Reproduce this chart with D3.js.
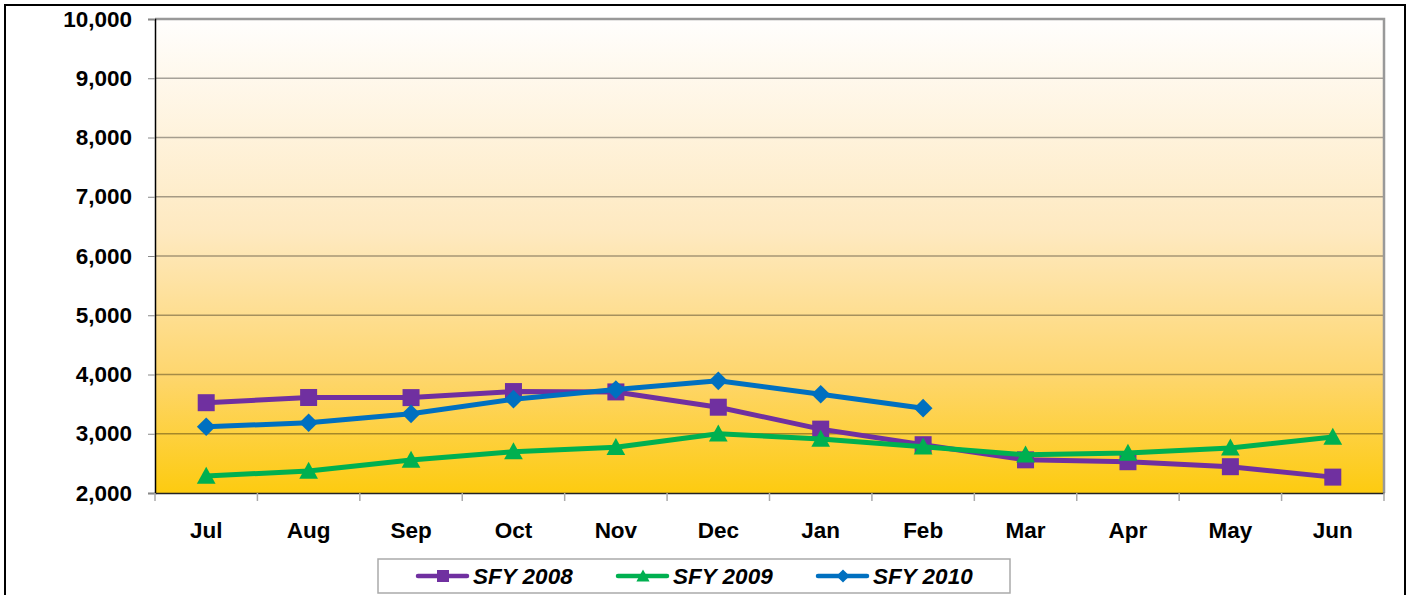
<!DOCTYPE html>
<html>
<head>
<meta charset="utf-8">
<script src="https://cdn.jsdelivr.net/npm/d3@7"></script>
<style>
  body { margin: 0; background: #fff; }
  svg { font-family: Arial, "Liberation Sans", sans-serif; }
</style>
</head>
<body>
<svg width="1414" height="595"></svg>
<script>
const months = ["Jul", "Aug", "Sep", "Oct", "Nov", "Dec", "Jan", "Feb", "Mar", "Apr", "May", "Jun"];
const sfy2008 = [3524, 3612, 3610, 3712, 3706, 3448, 3078, 2815, 2560, 2528, 2444, 2268];
const sfy2009 = [2287, 2371, 2557, 2697, 2772, 3000, 2911, 2781, 2645, 2675, 2760, 2945];
const sfy2010 = [3118, 3186, 3336, 3583, 3745, 3893, 3667, 3431, null, null, null, null];
const yTicks = [2000, 3000, 4000, 5000, 6000, 7000, 8000, 9000, 10000];

const series = [
  { name: "SFY 2008", values: sfy2008, color: "#7030a0", shape: "square" },
  { name: "SFY 2009", values: sfy2009, color: "#00b050", shape: "triangle" },
  { name: "SFY 2010", values: sfy2010, color: "#0070c0", shape: "diamond" }
];

const svg = d3.select("svg");
const width = +svg.attr("width");
const height = +svg.attr("height");

// outer frame
svg.append("rect")
  .attr("x", 5).attr("y", 5)
  .attr("width", 1400).attr("height", 600)
  .attr("fill", "none")
  .attr("stroke", "#000")
  .attr("stroke-width", 2);

const plot = { left: 155, right: 1384, top: 19, bottom: 493 };

const x = d3.scaleBand().domain(months).range([plot.left, plot.right]);
const y = d3.scaleLinear().domain([2000, 10000]).range([plot.bottom, plot.top]);

// background gradient
const defs = svg.append("defs");
const grad = defs.append("linearGradient")
  .attr("id", "bg").attr("x1", 0).attr("y1", 0).attr("x2", 0).attr("y2", 1);
grad.append("stop").attr("offset", "0%").attr("stop-color", "#fffefd");
grad.append("stop").attr("offset", "45%").attr("stop-color", "#fee9c0");
grad.append("stop").attr("offset", "75%").attr("stop-color", "#fed66e");
grad.append("stop").attr("offset", "100%").attr("stop-color", "#fdcb10");

svg.append("rect")
  .attr("x", plot.left).attr("y", plot.top)
  .attr("width", plot.right - plot.left)
  .attr("height", plot.bottom - plot.top)
  .attr("fill", "url(#bg)");

// gridlines
svg.append("g")
  .selectAll("line")
  .data(yTicks.slice(1, -1))
  .enter()
  .append("line")
  .attr("x1", plot.left).attr("x2", plot.right)
  .attr("y1", d => y(d)).attr("y2", d => y(d))
  .attr("stroke", "#000")
  .attr("stroke-opacity", 0.35)
  .attr("stroke-width", 1.3);

// plot border (top / right)
svg.append("path")
  .attr("d", `M${plot.left},${plot.top}H${plot.right}V${plot.bottom}`)
  .attr("fill", "none")
  .attr("stroke", "#999")
  .attr("stroke-width", 2.5);

// y axis
const yAxis = svg.append("g")
  .attr("transform", `translate(${plot.left},0)`)
  .call(d3.axisLeft(y).tickValues(yTicks).tickFormat(d3.format(",")).tickSize(7).tickPadding(16));
yAxis.select(".domain").attr("stroke", "#000").attr("stroke-width", 1.5);
yAxis.selectAll(".tick line").attr("stroke", "#888");
yAxis.selectAll("text")
  .attr("font-size", 22.5).attr("font-weight", "bold").attr("fill", "#000");

// x axis
const xAxis = svg.append("g")
  .attr("transform", `translate(0,${plot.bottom})`)
  .call(d3.axisBottom(x).tickSize(0).tickPadding(29));
xAxis.select(".domain").attr("stroke", "#222").attr("stroke-width", 1.5);
xAxis.selectAll("text")
  .attr("font-size", 22.5).attr("font-weight", "bold").attr("fill", "#000");

// x tick marks at band edges
svg.append("g")
  .selectAll("line")
  .data(d3.range(months.length + 1))
  .enter()
  .append("line")
  .attr("x1", i => plot.left + i * x.step())
  .attr("x2", i => plot.left + i * x.step())
  .attr("y1", plot.bottom).attr("y2", plot.bottom + 8)
  .attr("stroke", "#aaa")
  .attr("stroke-width", 1.5);

function marker(g, shape, color, size) {
  if (shape === "square") {
    g.append("rect")
      .attr("x", -size / 2).attr("y", -size / 2)
      .attr("width", size).attr("height", size)
      .attr("fill", color);
  } else if (shape === "triangle") {
    const w = size * 1.1, h = size;
    g.append("path")
      .attr("d", `M0,${-h * 0.55}L${w / 2},${h * 0.45}L${-w / 2},${h * 0.45}Z`)
      .attr("fill", color);
  } else {
    const s = size * 0.55;
    g.append("path")
      .attr("d", `M0,${-s}L${s},0L0,${s}L${-s},0Z`)
      .attr("fill", color);
  }
}

const line = d3.line()
  .defined(d => d.v != null)
  .x(d => x(d.m) + x.bandwidth() / 2)
  .y(d => y(d.v));

series.forEach(s => {
  const pts = s.values.map((v, i) => ({ m: months[i], v }));
  svg.append("path")
    .datum(pts)
    .attr("d", line)
    .attr("fill", "none")
    .attr("stroke", s.color)
    .attr("stroke-width", 5)
    .attr("stroke-linejoin", "round");
  pts.filter(d => d.v != null).forEach(d => {
    const g = svg.append("g")
      .attr("transform", `translate(${x(d.m) + x.bandwidth() / 2},${y(d.v)})`);
    marker(g, s.shape, s.color, 17);
  });
});

// legend
const legend = svg.append("g");
legend.append("rect")
  .attr("x", 378).attr("y", 559)
  .attr("width", 632).attr("height", 34)
  .attr("fill", "#fff")
  .attr("stroke", "#aaa")
  .attr("stroke-width", 1.5);

const legendX = [418, 618, 818];
series.forEach((s, i) => {
  const lg = legend.append("g").attr("transform", `translate(${legendX[i]},576)`);
  lg.append("line")
    .attr("x1", 0).attr("x2", 49)
    .attr("stroke", s.color).attr("stroke-width", 4.5)
    .attr("stroke-linecap", "round");
  marker(lg.append("g").attr("transform", "translate(25,0)"), s.shape, s.color, 12);
  lg.append("text")
    .attr("x", 55).attr("y", 8)
    .attr("font-size", 22.5)
    .attr("font-weight", "bold")
    .attr("font-style", "italic")
    .text(s.name);
});
</script>
</body>
</html>
